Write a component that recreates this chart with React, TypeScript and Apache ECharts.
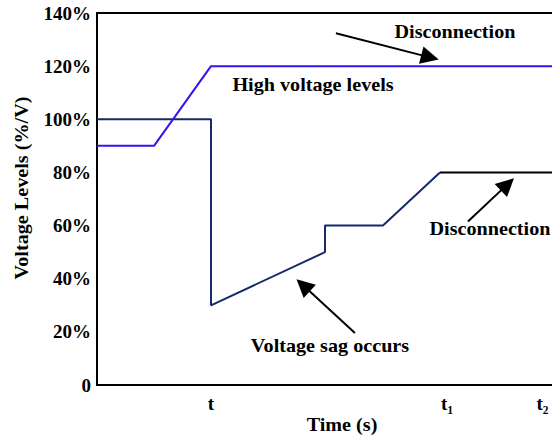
import React, { useEffect, useRef } from "react";
import * as echarts from "echarts";

// ---- data ----
const yTickValues = [0, 20, 40, 60, 80, 100, 120, 140];
const xTickValues = [24, 73.7, 93.8];
const xTickLabels = ["t", "t\u2081", "t\u2082"];

// measured voltage (navy) : nominal -> sag -> recovery
const sagX = [0, 24, 24, 48, 48, 60.2, 72.2];
const sagY = [100, 100, 30, 50, 60, 60, 80];
// after disconnection (black)
const discX = [72.2, 100];
const discY = [80, 80];
// high-voltage curve (blue)
const highX = [0, 12, 24, 100];
const highY = [90, 90, 120, 120];

// annotation arrows: [x1, y1, x2, y2] in data units
const arrows = [
  [50.3, 132.4, 70.1, 123.3],
  [78.1, 61.5, 86.4, 75.5],
  [54.3, 19.6, 43.4, 37.5],
];
const notes = ["Disconnection", "High voltage levels", "Disconnection", "Voltage sag occurs"];

const FONT = '"Liberation Serif", "Times New Roman", serif';

const zip = (xs: number[], ys: number[]) => xs.map((x, i) => [x, ys[i]]);

export default function App() {
  const ref = useRef<HTMLDivElement>(null);
  useEffect(() => {
    if (!ref.current) return;
    const chart = echarts.init(ref.current, null, { renderer: "svg" });
    const textStyle = (x: number, y: number, text: string) => ({
      type: "text",
      x,
      y,
      scaleX: 1.12,
      style: {
        text,
        font: `bold 18px ${FONT}`,
        fill: "#000",
        align: "center",
        verticalAlign: "middle",
      },
    });
    chart.setOption({
      animation: false,
      backgroundColor: "#fff",
      grid: { left: 97, right: -20, top: 13, bottom: 51, outerBoundsMode: "none", containLabel: false },
      xAxis: [
        {
          type: "value",
          min: 0,
          max: 100,
          axisLine: { show: true, lineStyle: { color: "#000", width: 2 } },
          axisTick: { show: false },
          splitLine: { show: false },
          axisLabel: {
            customValues: xTickValues,
            margin: 9,
            color: "#000",
            fontFamily: FONT,
            fontWeight: "bold",
            fontSize: 19,
            formatter: (v: number) => {
              const i = xTickValues.findIndex((t) => Math.abs(t - v) < 1e-6);
              return i >= 0 ? xTickLabels[i] : "";
            },
          },
        },
        {
          type: "value",
          position: "top",
          min: 0,
          max: 100,
          axisLine: { show: true, onZero: false, lineStyle: { color: "#000", width: 2 } },
          axisTick: { show: false },
          axisLabel: { show: false },
          splitLine: { show: false },
        },
      ],
      yAxis: {
        type: "value",
        min: 0,
        max: 140,
        interval: 20,
        axisLine: { show: true, lineStyle: { color: "#000", width: 2 } },
        axisTick: { show: false },
        splitLine: { show: false },
        axisLabel: {
          customValues: yTickValues,
          margin: 6,
          color: "#000",
          fontFamily: FONT,
          fontWeight: "bold",
          fontSize: 19,
          formatter: (v: number) => (v === 0 ? "0" : `${v}%`),
        },
      },
      series: [
        {
          type: "line",
          data: zip(sagX, sagY),
          symbol: "none",
          lineStyle: { color: "#152a6c", width: 2 },
          z: 2,
        },
        {
          type: "line",
          data: zip(discX, discY),
          symbol: "none",
          lineStyle: { color: "#000", width: 2 },
          z: 2,
        },
        {
          type: "line",
          data: zip(highX, highY),
          symbol: "none",
          lineStyle: { color: "#3216ee", width: 2 },
          z: 3,
          markLine: {
            silent: true,
            animation: false,
            symbolSize: 18,
            label: { show: false },
            lineStyle: { color: "#000", width: 2, type: "solid" },
            data: arrows.map((a) => [
              { coord: [a[0], a[1]], symbol: "none" },
              { coord: [a[2], a[3]], symbol: "triangle" },
            ]),
          },
        },
      ],
      graphic: [
        textStyle(455, 32, notes[0]),
        textStyle(313, 85, notes[1]),
        textStyle(490, 229, notes[2]),
        textStyle(330, 346, notes[3]),
        textStyle(342, 425, "Time (s)"),
        {
          type: "text",
          x: 22,
          y: 188,
          rotation: Math.PI / 2,
          scaleX: 1.12,
          style: {
            text: "Voltage Levels (%/V)",
            font: `bold 18px ${FONT}`,
            fill: "#000",
            align: "center",
            verticalAlign: "middle",
          },
        },
      ],
    });
    return () => chart.dispose();
  }, []);
  return (
    <div
      ref={ref}
      style={{ position: "fixed", left: 0, top: 0, width: 552, height: 436, overflow: "hidden" }}
    />
  );
}
